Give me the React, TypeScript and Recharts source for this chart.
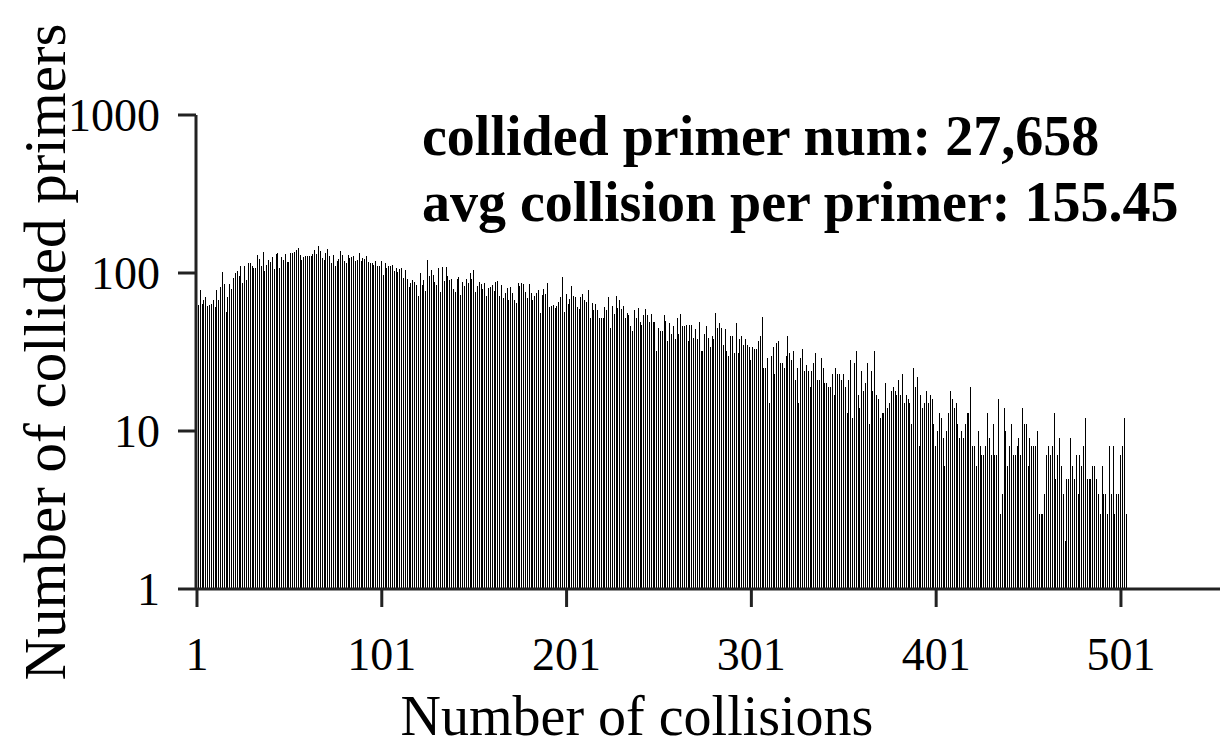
import { BarChart, Bar, XAxis, YAxis, Label } from 'recharts'

// primers per collision count
const counts1to60 = [
  68, 63, 78, 64, 67, 71, 62, 63, 64, 67, 61, 78, 67, 81, 102, 85, 57, 71, 85, 79,
  93, 100, 103, 96, 110, 86, 111, 90, 115, 115, 110, 108, 108, 130, 123, 110, 136, 103, 113, 121,
  117, 127, 106, 131, 133, 107, 127, 121, 131, 118, 117, 133, 133, 135, 140, 145, 130, 121, 127, 128,
]
const counts61to122 = [
  128, 129, 129, 131, 140, 131, 149, 138, 125, 121, 133, 142, 128, 115, 130, 111, 119, 123, 138, 130,
  119, 115, 130, 124, 127, 129, 119, 121, 133, 119, 124, 123, 129, 118, 116, 115, 113, 119, 110, 111,
  119, 97, 115, 108, 111, 110, 113, 103, 108, 102, 106, 108, 93, 104, 92, 82, 86, 90, 88, 84,
  72, 100,
]
const counts123to186 = [
  84, 90, 77, 120, 96, 104, 97, 88, 84, 107, 76, 109, 89, 109, 96, 90, 91, 79, 76, 92,
  94, 73, 88, 83, 92, 87, 100, 91, 104, 76, 83, 88, 85, 79, 87, 72, 80, 82, 84, 77,
  88, 89, 72, 84, 69, 75, 80, 67, 82, 75, 67, 65, 87, 83, 87, 85, 76, 69, 85, 75,
  67, 72, 75, 78,
]
const counts187to248 = [
  56, 73, 79, 74, 86, 61, 62, 63, 60, 62, 66, 71, 94, 57, 74, 64, 68, 83, 72, 70,
  61, 59, 71, 74, 67, 66, 78, 52, 65, 58, 64, 58, 52, 52, 52, 61, 58, 70, 45, 62,
  55, 72, 60, 67, 59, 62, 52, 56, 54, 46, 43, 58, 52, 60, 49, 47, 54, 59, 54, 49,
  55, 49,
]
const counts249to310 = [
  49, 32, 45, 43, 43, 54, 50, 37, 48, 41, 46, 38, 52, 41, 55, 46, 46, 47, 37, 47,
  47, 39, 44, 38, 49, 32, 32, 41, 46, 39, 34, 40, 38, 56, 45, 48, 45, 35, 44, 32,
  30, 40, 40, 31, 48, 31, 38, 40, 35, 38, 35, 34, 28, 34, 33, 33, 37, 40, 53, 25,
  25, 29,
]
const counts311to372 = [
  15, 30, 34, 23, 36, 37, 27, 27, 25, 30, 40, 31, 28, 32, 21, 25, 15, 29, 33, 24,
  26, 24, 19, 24, 27, 31, 21, 21, 29, 25, 20, 20, 19, 19, 23, 17, 25, 23, 23, 21,
  23, 19, 13, 21, 28, 12, 27, 32, 17, 14, 24, 18, 20, 27, 11, 24, 18, 32, 17, 16,
  12, 13,
]
const counts373to435 = [
  13, 20, 14, 15, 18, 19, 18, 17, 21, 17, 23, 15, 17, 16, 15, 11, 25, 19, 22, 8,
  17, 14, 15, 18, 15, 17, 16, 11, 8, 10, 13, 12, 9, 6, 10, 13, 18, 16, 14, 15,
  11, 9, 10, 9, 11, 13, 13, 19, 8, 8, 6, 10, 8, 7, 7, 8, 13, 9, 7, 11,
  7, 7, 16,
]
const counts436to504 = [
  3, 4, 14, 10, 6, 8, 11, 7, 7, 8, 9, 7, 14, 11, 11, 6, 9, 8, 8, 8,
  10, 3, 3, 3, 4, 7, 8, 7, 8, 13, 5, 7, 9, 6, 4, 2, 5, 5, 9, 6,
  5, 7, 4, 7, 6, 8, 12, 5, 5, 5, 6, 6, 5, 4, 3, 6, 4, 4, 3, 8,
  4, 8, 3, 4, 4, 7, 8, 12, 3,
]

const primerCounts = [
  ...counts1to60,
  ...counts61to122,
  ...counts123to186,
  ...counts187to248,
  ...counts249to310,
  ...counts311to372,
  ...counts373to435,
  ...counts436to504,
]

const xTicks = [1, 101, 201, 301, 401, 501]
const yTicks = [1, 10, 100, 1000]
const statLines = ['collided primer num: 27,658', 'avg collision per primer: 155.45']

const data = primerCounts.map((primers, i) => ({ collisions: i + 1, primers }))

const serif = '"Liberation Serif", "Times New Roman", serif'
const tickStyle = { fill: '#000', fontSize: 46, fontFamily: serif }
const axisStroke = { stroke: '#222', strokeWidth: 3 }

const ThinBar = (props: any) => {
  const { x, y, width, height } = props
  if (!height || height <= 0) return null
  return <rect x={x} y={y} width={width} height={height} fill="#000" shapeRendering="crispEdges" />
}

export default function App() {
  return (
    <div style={{ position: 'absolute', left: 0, top: 0, width: 1227, height: 756, background: '#fff' }}>
      <BarChart width={1227} height={756} data={data} margin={{ top: 115, right: 7, bottom: 0, left: 0 }}>
        <XAxis
          type="number"
          dataKey="collisions"
          domain={[0.46, 554.6]}
          ticks={xTicks}
          allowDataOverflow
          height={167}
          tickSize={18}
          tickMargin={30}
          tick={tickStyle}
          axisLine={axisStroke}
          tickLine={axisStroke}
        >
          <Label
            value="Number of collisions"
            position="insideBottom"
            offset={21}
            dx={-71}
            style={{ fill: '#000', fontSize: 56, fontFamily: serif }}
          />
        </XAxis>
        <YAxis
          scale="log"
          domain={[1, 1000]}
          ticks={yTicks}
          allowDataOverflow
          width={196}
          tickSize={18}
          tickMargin={18}
          tick={tickStyle}
          axisLine={axisStroke}
          tickLine={axisStroke}
        >
          <Label
            value="Number of collided primers"
            angle={-90}
            position="insideLeft"
            offset={44}
            style={{ fill: '#000', fontSize: 59, fontFamily: serif, textAnchor: 'middle' }}
          />
        </YAxis>
        <Bar dataKey="primers" barSize={1} fill="#000" shape={ThinBar} isAnimationActive={false} />
      </BarChart>
      <svg width={1227} height={756} style={{ position: 'absolute', left: 0, top: 0, pointerEvents: 'none' }}>
        {statLines.map((line, i) => (
          <text key={line} x={422} y={155 + i * 66} fontSize={56} fontWeight="bold" fontFamily={serif} fill="#000">
            {line}
          </text>
        ))}
      </svg>
    </div>
  )
}
